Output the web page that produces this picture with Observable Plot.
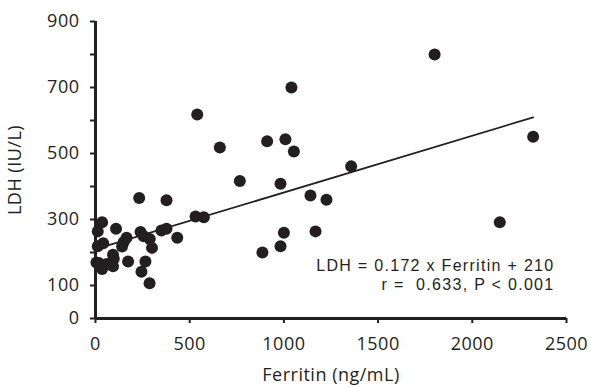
<!DOCTYPE html>
<html>
<head>
<meta charset="utf-8">
<script src="https://cdn.jsdelivr.net/npm/d3@7"></script>
<script src="https://cdn.jsdelivr.net/npm/@observablehq/plot@0.6"></script>
<style>
  html, body { margin: 0; padding: 0; background: #fff; }
  svg { display: block; }
  svg text { letter-spacing: 0.5px; }
  svg .note text, svg text.note { letter-spacing: 1.3px; font-family: 'Liberation Sans', sans-serif; }
</style>
</head>
<body>
<div id="chart"></div>
<script>
const ferritin = [12, 35, 109, 41, 12, 165, 150, 141, 239, 256, 288, 300, 350, 377, 434,
  93, 97, 18, 35, 93, 60, 173, 265, 244, 287, 232, 377, 5,
  531, 575, 540, 660, 766, 886, 911, 982, 982, 1000, 1008, 1040, 1053, 1141, 1168, 1226, 1357, 1800, 2146, 2323];
const ldh = [264, 292, 272, 228, 219, 245, 232, 218, 262, 249, 241, 214, 267, 272, 245,
  193, 181, 168, 150, 158, 165, 173, 173, 142, 107, 365, 358, 170,
  309, 307, 618, 518, 417, 200, 537, 408, 219, 260, 543, 700, 506, 373, 264, 360, 461, 800, 292, 551];
const slope = 0.172;
const intercept = 210;
const xTicks = [0, 500, 1000, 1500, 2000, 2500];
const yTicks = [0, 100, 200, 300, 400, 500, 600, 700, 800, 900];
const yLabeled = [0, 100, 300, 500, 700, 900];
const annotation = ["LDH = 0.172 x Ferritin + 210", "r =  0.633, P < 0.001"];

const points = ferritin.map((f, i) => ({ferritin: f, ldh: ldh[i]}));
const xMax = d3.max(ferritin);
const fit = [0, xMax].map(f => ({ferritin: f, ldh: slope * f + intercept}));
const ink = "#231f20";

const chart = Plot.plot({
  width: 591,
  height: 387,
  marginLeft: 95,
  marginRight: 25,
  marginTop: 21,
  marginBottom: 69,
  style: {fontFamily: "'Open Sans', sans-serif", fontSize: "18px", color: ink, background: "#fff"},
  x: {domain: [0, 2500]},
  y: {domain: [0, 900]},
  marks: [
    Plot.axisX({ticks: xTicks, tickSize: 5, tickPadding: 14, strokeWidth: 2, tickFormat: d => String(d), label: "Ferritin (ng/mL)", labelAnchor: "center", labelOffset: 62, labelArrow: "none", fontSize: 18}),
    Plot.axisY({ticks: yTicks, tickSize: 5, tickPadding: 11, strokeWidth: 2, tickFormat: d => yLabeled.includes(d) ? String(d) : "", label: "LDH (IU/L)", labelAnchor: "center", labelOffset: 87, labelArrow: "none", fontSize: 18}),
    Plot.ruleX([0], {y1: 0, y2: 900, stroke: ink, strokeWidth: 3}),
    Plot.ruleY([0], {x1: 0, x2: 2500, stroke: ink, strokeWidth: 3}),
    Plot.line(fit, {x: "ferritin", y: "ldh", stroke: ink, strokeWidth: 1.8}),
    Plot.dot(points, {x: "ferritin", y: "ldh", r: 6, fill: ink, stroke: "none"}),
    Plot.text([annotation[0]], {className: "note", frameAnchor: "bottom-right", dx: -12, dy: -53, text: d => d, textAnchor: "end", lineAnchor: "middle", fontSize: 16, fill: ink}),
    Plot.text([annotation[1]], {className: "note", frameAnchor: "bottom-right", dx: -12, dy: -34, text: d => d, textAnchor: "end", lineAnchor: "middle", fontSize: 16, fill: ink})
  ]
});
document.getElementById("chart").appendChild(chart);
</script>
</body>
</html>
